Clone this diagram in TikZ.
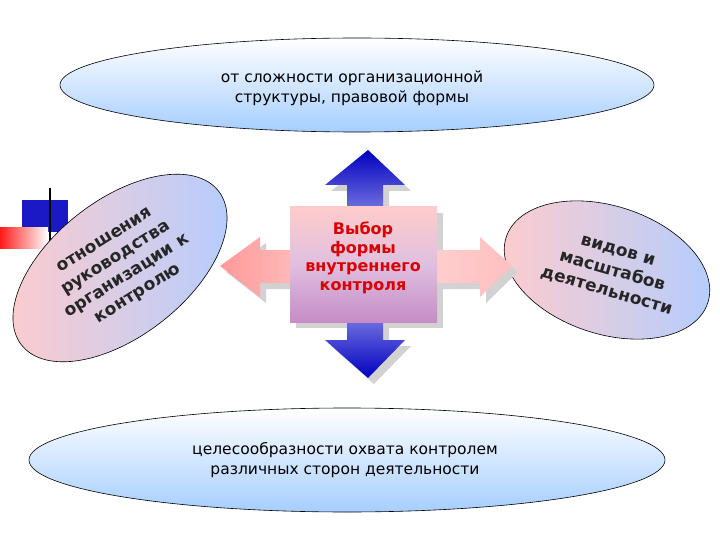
\documentclass[tikz,border=0pt]{standalone}
\usepackage{fontspec}
\setmainfont{DejaVu Sans}
\begin{document}
\begin{tikzpicture}[x=1pt,y=-1pt,
 ell/.style={draw=black,line width=0.6pt},
 lbl/.style={align=center,font=\fontsize{15.5}{20}\selectfont},
 blbl/.style={align=center,font=\bfseries\fontsize{17}{21}\selectfont,text=black!85}]
\useasboundingbox (0,0) rectangle (720,540);
% decoration
\fill[blue!75!black!90] (22,200) rectangle (68,232);
\shade[left color=red!90,right color=white] (0,228) rectangle (48,248);
\draw[line width=2pt] (50,188) -- (50,242);
% top ellipse
\shade[ell,top color=white,bottom color=cyan!45!blue!35] (357,85) ellipse [x radius=297,y radius=47];
\node[lbl] (top) at (352,88) {от сложности организационной\\структуры, правовой формы};
% bottom ellipse
\shade[ell,top color=white,bottom color=cyan!45!blue!35] (347,460) ellipse [x radius=318,y radius=52];
\node[lbl] (bot) at (345,460) {целесообразности охвата контролем\\различных сторон деятельности};
% left ellipse
\shade[ell,rotate around={38:(120,268)},left color=red!20,right color=cyan!35!blue!30] (120,268) ellipse [x radius=125,y radius=68];
\node[blbl,rotate=32] (left) at (122,268) {отношения\\руководства\\организации к\\контролю};
% right ellipse
\shade[ell,rotate around={-18:(607,270)},left color=red!20,right color=cyan!35!blue!30] (607,270) ellipse [x radius=106,y radius=64];
\node[blbl,rotate=-16] (right) at (612,272) {видов и\\масштабов\\деятельности};
% shadows
\begin{scope}[shift={(6,6)}]
\fill[gray!35] (368,150) -- (405,185) -- (383,185) -- (383,340) -- (405,340) -- (368,378) -- (325,340) -- (347,340) -- (347,185) -- (325,185) -- cycle;
\fill[gray!35] (220,266) -- (260,237) -- (260,250) -- (480,250) -- (480,237) -- (512,266) -- (480,297) -- (480,283) -- (260,283) -- (260,297) -- cycle;
\fill[gray!35] (290,207) rectangle (437,322);
\end{scope}
% horizontal arrow
\shade[left color=red!40,right color=red!25,middle color=red!15] (220,266) -- (260,237) -- (260,250) -- (480,250) -- (480,237) -- (512,266) -- (480,297) -- (480,283) -- (260,283) -- (260,297) -- cycle;
% vertical arrow
\shade[top color=blue!75!black,bottom color=blue!75!black,middle color=blue!15] (368,150) -- (405,185) -- (383,185) -- (383,340) -- (405,340) -- (368,378) -- (325,340) -- (347,340) -- (347,185) -- (325,185) -- cycle;
% center box
\shade[top color=red!20,bottom color=violet!45,middle color=violet!25] (290,207) rectangle (437,322);
\node[align=center,text=red!85!black,font=\bfseries\fontsize{16}{18.5}\selectfont] (c) at (363,258) {Выбор\\формы\\внутреннего\\контроля};
\end{tikzpicture}
\end{document}
